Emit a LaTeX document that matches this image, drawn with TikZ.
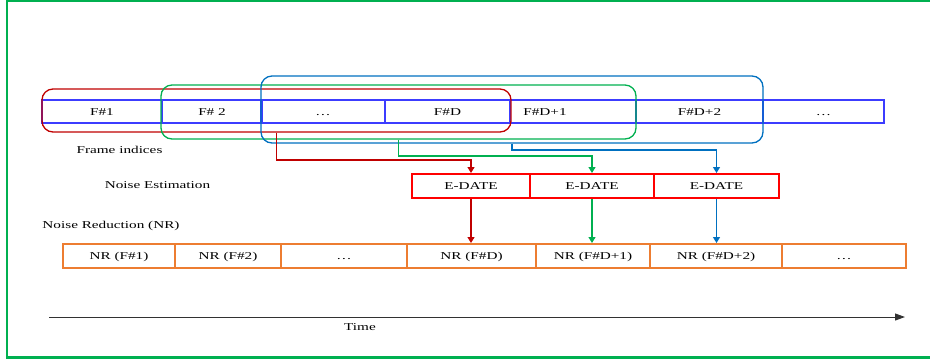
\documentclass[tikz,border=0pt]{standalone}
\usepackage{fontspec}
\setmainfont{Liberation Serif}
\usetikzlibrary{arrows.meta}
\definecolor{frameblue}{RGB}{60,60,255}
\definecolor{rboxc}{RGB}{192,0,0}
\definecolor{gboxc}{RGB}{0,176,80}
\definecolor{bboxc}{RGB}{0,112,192}
\definecolor{edatec}{RGB}{255,0,0}
\definecolor{nrc}{RGB}{237,125,49}
\definecolor{axisc}{RGB}{50,50,50}
\newcommand{\sx}[1]{\scalebox{1.45}[1]{#1}}
\tikzset{
  txt/.style={font=\fontsize{10.5}{12}\selectfont, text height=7pt, text depth=0pt},
  cell/.style={draw=frameblue, line width=2pt, minimum height=23pt, inner sep=0pt, txt},
  win/.style={draw=#1, line width=1.3pt, rounded corners=11pt, inner sep=0pt},
  edbox/.style={draw=edatec, line width=2pt, minimum height=24pt, inner sep=0pt, txt},
  nrbox/.style={draw=nrc, line width=2pt, minimum height=24pt, inner sep=0pt, txt},
  lbl/.style={inner sep=0pt, txt},
  conn/.style={draw=#1, line width=1.2pt, -{Triangle[width=7pt,length=6pt]}},
}
\begin{document}
\begin{tikzpicture}[x=1pt,y=-1pt]
\useasboundingbox (0,0) rectangle (930,360);
\clip (0,0) rectangle (930,360);
% outer border
\draw[gboxc, line width=2.2pt] (940,1) -- (7,1) -- (7,357.5) -- (940,357.5);
% frame cells
\node[cell, minimum width=120pt] (f1) at (102,111.5) {\sx{F\#1}};
\node[cell, minimum width=100pt] (f2) at (212,111.5) {\sx{F\# 2}};
\node[cell, minimum width=124pt] (f3) at (323,111.5) {\sx{\ldots}};
\node[cell, minimum width=125pt] (f4) at (447.5,111.5) {\sx{F\#D}};
\node[cell, minimum width=126pt] (f5) at (573,111.5) {};
\node[lbl] (f5t) at (545,111.5) {\sx{F\#D+1}};
\node[cell, minimum width=127pt] (f6) at (699.5,111.5) {\sx{F\#D+2}};
\node[cell, minimum width=121pt] (f7) at (823.5,111.5) {\sx{\ldots}};
% windows
\node[win=rboxc, minimum width=469pt, minimum height=43pt] (rw) at (276.5,110.5) {};
\node[win=gboxc, minimum width=475pt, minimum height=54pt] (gw) at (398.5,112) {};
\node[win=bboxc, minimum width=502pt, minimum height=67pt] (bw) at (512,109.5) {};
% labels
\node[lbl] (li) at (119.5,150) {\sx{Frame indices}};
\node[lbl] (ln) at (157.5,185) {\sx{Noise Estimation}};
\node[lbl] (lr) at (111,225) {\sx{Noise Reduction (NR)}};
% E-DATE
\node[edbox, minimum width=118pt] (e1) at (471,186) {\sx{E-DATE}};
\node[edbox, minimum width=124pt] (e2) at (592,186) {\sx{E-DATE}};
\node[edbox, minimum width=125pt] (e3) at (716.5,186) {\sx{E-DATE}};
% NR row
\node[nrbox, minimum width=112pt] (n1) at (119,256) {\sx{NR (F\#1)}};
\node[nrbox, minimum width=106pt] (n2) at (228,256) {\sx{NR (F\#2)}};
\node[nrbox, minimum width=126pt] (n3) at (344,256) {\sx{\ldots}};
\node[nrbox, minimum width=129pt] (n4) at (471.5,256) {\sx{NR (F\#D)}};
\node[nrbox, minimum width=114pt] (n5) at (593,256) {\sx{NR (F\#D+1)}};
\node[nrbox, minimum width=132pt] (n6) at (716,256) {\sx{NR (F\#D+2)}};
\node[nrbox, minimum width=124pt] (n7) at (844,256) {\sx{\ldots}};
% connectors window -> E-DATE
\draw[conn=rboxc] (rw.south) -- (rw.south |- 0,160) -- (e1.north |- 0,160) -- (e1.north);
\draw[conn=gboxc] (gw.south) -- (gw.south |- 0,156) -- (e2.north |- 0,156) -- (e2.north);
\draw[conn=bboxc] (bw.south) -- (bw.south |- 0,150) -- (e3.north |- 0,150) -- (e3.north);
% E-DATE -> NR
\draw[conn=rboxc] (e1.south) -- (e1.south |- n4.north);
\draw[conn=gboxc] (e2.south) -- (e2.south |- n5.north);
\draw[conn=bboxc] (e3.south) -- (e3.south |- n6.north);
% time axis
\coordinate (t0) at (49,317);
\coordinate (t1) at (905,317);
\draw[axisc, line width=1pt, -{Triangle[width=7pt,length=10pt]}] (t0) -- (t1);
\node[lbl] (lt) at (360,326.5) {\sx{Time}};
\end{tikzpicture}
\end{document}
